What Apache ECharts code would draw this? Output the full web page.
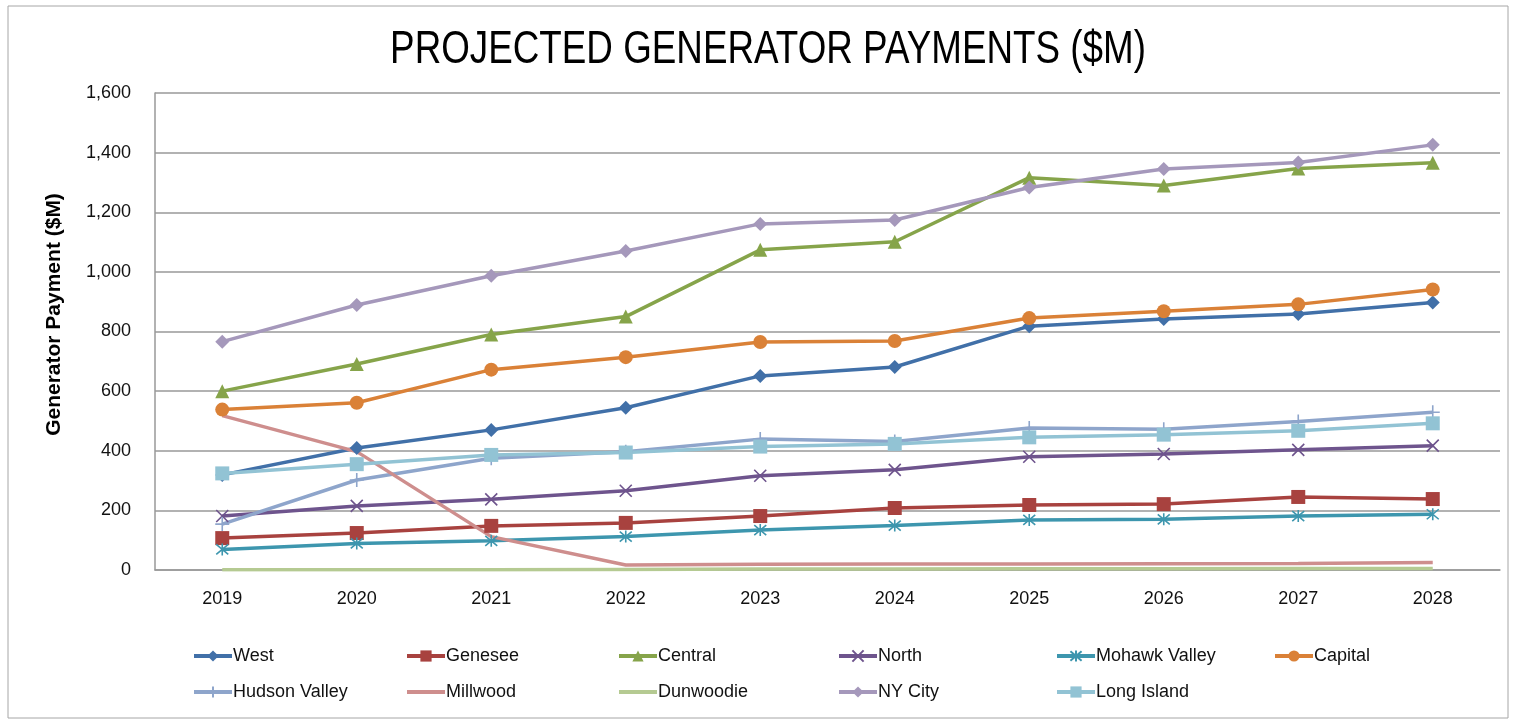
<!DOCTYPE html>
<html>
<head>
<meta charset="utf-8">
<title>Projected Generator Payments</title>
<script src="https://cdn.jsdelivr.net/npm/echarts@6/dist/echarts.min.js"></script>
<style>
  html, body { margin: 0; padding: 0; background: #fff; }
  #chart { width: 1515px; height: 723px; }
</style>
</head>
<body>
<div id="chart"></div>
<script>
// values ($M)
const years = ['2019', '2020', '2021', '2022', '2023', '2024', '2025', '2026', '2027', '2028'];
const west = [319, 409, 470, 544, 651, 681, 818, 842, 859, 897];
const genesee = [107, 124, 148, 158, 181, 208, 218, 221, 245, 238];
const central = [600, 691, 790, 850, 1074, 1101, 1316, 1290, 1347, 1366];
const north = [181, 215, 237, 266, 316, 336, 380, 389, 403, 417];
const mohawkValley = [69, 89, 98, 112, 134, 149, 168, 170, 181, 187];
const capital = [538, 561, 672, 714, 765, 768, 845, 868, 891, 941];
const hudsonValley = [154, 302, 375, 397, 439, 431, 476, 472, 498, 529];
const millwood = [518, 397, 112, 17, 19, 20, 20, 21, 22, 25];
const dunwoodie = [1, 1, 1, 2, 3, 3, 4, 4, 5, 5];
const nyCity = [766, 889, 987, 1070, 1161, 1174, 1283, 1345, 1367, 1426];
const longIsland = [324, 355, 386, 394, 414, 423, 445, 454, 467, 492];

const FONT = "'Liberation Sans', Arial, sans-serif";

// stroked marker shapes
const crossPath = 'path://M0,0L10,10M10,0L0,10';
const starPath = 'path://M0,0L10,10M10,0L0,10M5,-1L5,11';
const plusPath = 'path://M5,0L5,10M0,5L10,5';

const chart = echarts.init(document.getElementById('chart'));

function mkSeries(name, data, color, symbol, size, stroked) {
    return {
        name: name,
        type: 'line',
        data: data,
        symbol: symbol,
        symbolSize: size,
        showSymbol: symbol !== 'none',
        lineStyle: { color: color, width: 3.5 },
        itemStyle: stroked
            ? { color: 'rgba(0,0,0,0)', borderColor: color, borderWidth: 1.6 }
            : { color: color },
        emphasis: { disabled: true },
        animation: false
    };
}

const series = [
    mkSeries('West', west, '#4170a8', 'diamond', 14),
    mkSeries('Genesee', genesee, '#a8423f', 'rect', 14),
    mkSeries('Central', central, '#86a44a', 'triangle', 14),
    mkSeries('North', north, '#6e548d', crossPath, 12, true),
    mkSeries('Mohawk Valley', mohawkValley, '#3d96ae', starPath, 12, true),
    mkSeries('Capital', capital, '#da8137', 'circle', 14),
    mkSeries('Hudson Valley', hudsonValley, '#8ea5cb', plusPath, 14, true),
    mkSeries('Millwood', millwood, '#ce8e8d', 'none', 0),
    mkSeries('Dunwoodie', dunwoodie, '#b5ca92', 'none', 0),
    mkSeries('NY City', nyCity, '#a598bb', 'diamond', 14),
    mkSeries('Long Island', longIsland, '#92c3d4', 'rect', 14)
];

// series drawn without markers get a plain line in the legend
const noMarker = ['Millwood', 'Dunwoodie'];

// legend columns: [left, names]
const legendCols = [
    [187, ['West', 'Hudson Valley']],
    [400, ['Genesee', 'Millwood']],
    [612, ['Central', 'Dunwoodie']],
    [832, ['North', 'NY City']],
    [1050, ['Mohawk Valley', 'Long Island']],
    [1268, ['Capital']]
];

const legends = legendCols.map(function (col) {
    return {
        left: col[0],
        top: 642,
        orient: 'vertical',
        itemGap: 18,
        itemWidth: 38,
        itemHeight: 14,
        data: col[1].map(function (n) {
            return noMarker.indexOf(n) >= 0 ? { name: n, itemStyle: { opacity: 0 } } : n;
        }),
        selectedMode: false,
        lineStyle: { width: 4 },
        textStyle: { fontFamily: FONT, fontSize: 18, color: '#111', padding: [0, 0, 0, -4] }
    };
});

const option = {
    backgroundColor: '#fff',
    animation: false,
    legend: legends,
    grid: { left: 155, right: 15, top: 93, bottom: 153 },
    xAxis: {
        type: 'category',
        data: years,
        axisLine: { lineStyle: { color: '#999', width: 1.5 } },
        axisTick: { show: false },
        axisLabel: { fontFamily: FONT, fontSize: 18, color: '#111', margin: 20 }
    },
    yAxis: {
        type: 'value',
        min: 0,
        max: 1600,
        interval: 200,
        name: 'Generator Payment ($M)',
        nameLocation: 'middle',
        nameGap: 90,
        nameTextStyle: {
            fontFamily: FONT, fontSize: 21, color: '#000', fontWeight: 'bold',
            padding: [0, 0, 0, 34]
        },
        axisLine: { show: true, lineStyle: { color: '#999', width: 1.5 } },
        axisTick: { show: false },
        axisLabel: {
            fontFamily: FONT, fontSize: 18, color: '#111', margin: 24,
            formatter: function (v) { return v.toLocaleString('en-US'); }
        },
        splitLine: { lineStyle: { color: '#999', width: 1.5 } }
    },
    graphic: [{
        type: 'rect',
        shape: { x: 8, y: 6, width: 1500, height: 712 },
        style: { fill: 'none', stroke: '#a6a6a6', lineWidth: 1 },
        silent: true,
        z: -1
    }, {
        // title, squeezed to look like the narrow font of the original
        type: 'text',
        x: 768,
        y: 50,
        scaleX: 0.8,
        style: {
            text: 'PROJECTED GENERATOR PAYMENTS ($M)',
            fontFamily: FONT,
            fontSize: 46,
            fill: '#000',
            align: 'center',
            verticalAlign: 'middle'
        },
        silent: true
    }],
    series: series
};

chart.setOption(option);
</script>
</body>
</html>
